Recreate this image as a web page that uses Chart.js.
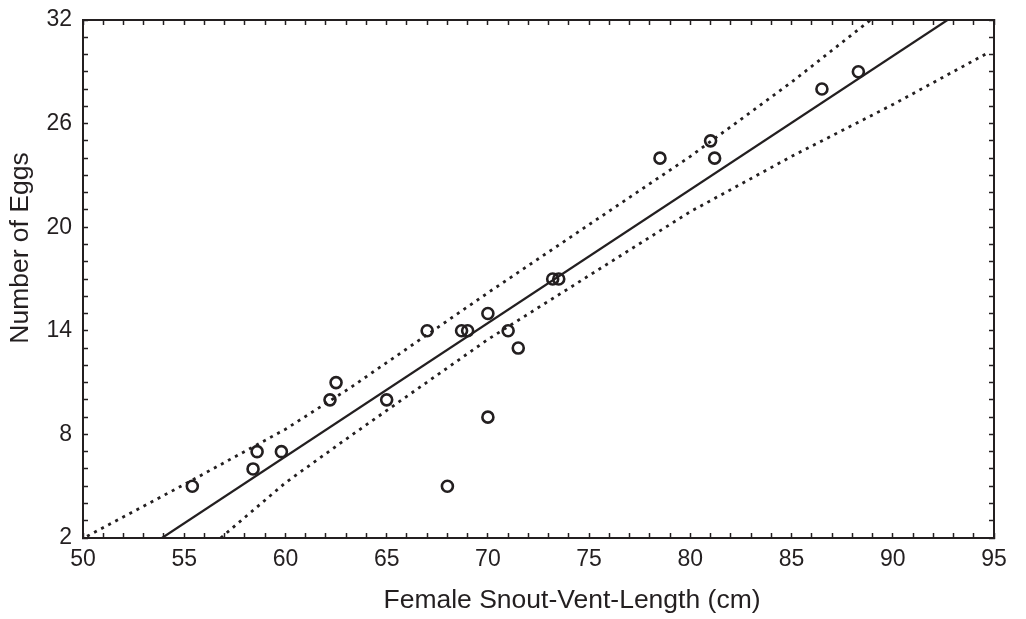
<!DOCTYPE html>
<html>
<head>
<meta charset="utf-8">
<script src="https://cdn.jsdelivr.net/npm/chart.js@4"></script>
<style>
  body { margin: 0; background: #fff; }
  #wrap { width: 1026px; height: 619px; }
</style>
</head>
<body>
<div id="wrap"><canvas id="eggs-chart" width="1026" height="619"></canvas></div>
<script>
// observed females: snout-vent length (cm) vs number of eggs
const svlValues = [55.4, 58.4, 58.6, 59.8, 62.2, 62.5, 65.0, 67.0, 68.0, 68.7, 69.0, 70.0, 70.0, 71.0, 71.5, 73.2, 73.5, 78.5, 81.0, 81.2, 86.5, 88.3];
const eggValues = [5, 6, 7, 7, 10, 11, 10, 14, 5, 14, 14, 15, 9, 14, 13, 17, 17, 24, 25, 24, 28, 29];

// regression line at its ends
const fitX = [53.9, 92.7];
const fitY = [2, 32];

// dotted confidence band
const upperX = [50.2, 55, 60, 63.2, 70, 80, 85, 88.9];
const upperY = [2.1, 5.1, 8.3, 10.7, 16.2, 24.1, 28.4, 32];
const lowerX = [56.8, 60, 63.2, 70, 80, 85, 90, 94.7];
const lowerY = [2, 5.2, 7.9, 13.5, 20.9, 24.1, 27.1, 30.1];

const xLabelTicks = [50, 55, 60, 65, 70, 75, 80, 85, 90, 95];
const yLabelTicks = [2, 8, 14, 20, 26, 32];

const xTitle = 'Female Snout-Vent-Length (cm)';
const yTitle = 'Number of Eggs';

const ink = '#231f20';
const fontFamily = '"Liberation Sans", Arial, Helvetica, sans-serif';

function toPoints(xs, ys) {
    return xs.map((x, i) => ({ x: x, y: ys[i] }));
}

// axis titles sit a bit off the plot centre in the original
const axisTitlePlugin = {
    id: 'axisTitles',
    afterDraw(chart) {
        const c = chart.ctx;
        c.save();
        c.fillStyle = ink;
        c.font = '26.5px ' + fontFamily;
        c.textAlign = 'center';
        c.textBaseline = 'middle';
        c.fillText(xTitle, 572, 601);
        c.translate(21, 248);
        c.rotate(-Math.PI / 2);
        c.fillText(yTitle, 0, 0);
        c.restore();
    }
};

function frameAxis(position, min, max, labels, size) {
    const horizontal = position === 'top' || position === 'bottom';
    return {
        type: 'linear',
        position: position,
        min: min,
        max: max,
        afterFit: scale => {
            if (horizontal) scale.height = size; else scale.width = size;
            // labels may overhang the frame, don't let them push it in
            scale.paddingTop = scale.paddingBottom = 0;
            scale.paddingLeft = scale.paddingRight = 0;
        },
        border: { display: true, color: ink, width: 2 },
        grid: {
            display: true,
            drawOnChartArea: false,
            drawTicks: true,
            tickLength: -5,
            tickWidth: 1.5,
            tickColor: ink
        },
        ticks: {
            stepSize: 1,
            autoSkip: false,
            maxRotation: 0,
            padding: horizontal ? 13 : 16,
            color: ink,
            font: { family: fontFamily, size: 23 },
            callback: v => (labels && labels.includes(v)) ? String(v) : ''
        }
    };
}

const ctx = document.getElementById('eggs-chart').getContext('2d');

new Chart(ctx, {
    data: {
        datasets: [
            {
                type: 'line',
                data: toPoints(upperX, upperY),
                borderColor: ink,
                borderWidth: 2.8,
                borderDash: [3, 5],
                pointRadius: 0,
                fill: false,
                tension: 0
            },
            {
                type: 'line',
                data: toPoints(lowerX, lowerY),
                borderColor: ink,
                borderWidth: 2.8,
                borderDash: [3, 5],
                pointRadius: 0,
                fill: false,
                tension: 0
            },
            {
                type: 'line',
                data: toPoints(fitX, fitY),
                borderColor: ink,
                borderWidth: 2.2,
                pointRadius: 0,
                fill: false
            },
            {
                type: 'scatter',
                data: toPoints(svlValues, eggValues),
                pointStyle: 'circle',
                pointRadius: 5.5,
                borderWidth: 2.6,
                borderColor: ink,
                backgroundColor: 'rgba(0,0,0,0)'
            }
        ]
    },
    options: {
        responsive: false,
        animation: false,
        layout: { padding: { top: 20, right: 32, left: 0, bottom: 0 } },
        plugins: {
            legend: { display: false },
            tooltip: { enabled: false }
        },
        scales: {
            x: frameAxis('bottom', 50, 95, xLabelTicks, 81),
            y: frameAxis('left', 2, 32, yLabelTicks, 83),
            x2: frameAxis('top', 50, 95, null, 0),
            y2: frameAxis('right', 2, 32, null, 0)
        }
    },
    plugins: [axisTitlePlugin]
});
</script>
</body>
</html>
